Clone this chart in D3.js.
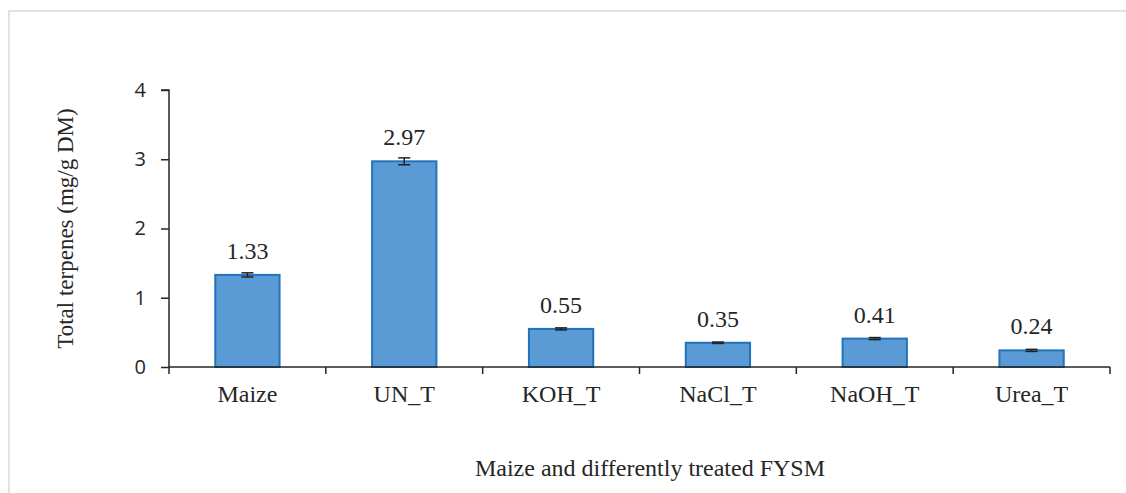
<!DOCTYPE html>
<html><head><meta charset="utf-8">
<script src="https://cdn.jsdelivr.net/npm/d3@7"></script>
<style>body{margin:0;background:#fff}svg{display:block}</style>
</head><body>
<svg id="c" width="1126" height="493"></svg>
<script>
const categories = ["Maize","UN_T","KOH_T","NaCl_T","NaOH_T","Urea_T"];
const values = [1.33, 2.97, 0.55, 0.35, 0.41, 0.24];
const errors = [0.03, 0.05, 0.015, 0.01, 0.015, 0.015];
const yTicks = [0,1,2,3,4];
const yTitle = "Total terpenes (mg/g DM)";
const xTitle = "Maize and differently treated FYSM";

const serif = "'Liberation Serif', 'Times New Roman', serif";
const svg = d3.select("#c");
svg.append("rect").attr("x",9).attr("y",11).attr("width",1140).attr("height",500)
  .attr("fill","#fff").attr("stroke","#d9d9d9").attr("stroke-width",1.5);

const L=169, R=1110, T=90, B=367;
const x = d3.scaleBand().domain(categories).range([L,R]).paddingInner(0.59).paddingOuter(0.295);
const y = d3.scaleLinear().domain([0,4]).range([B,T]);

// y axis
const ya = svg.append("g").attr("transform",`translate(${L},0)`)
  .call(d3.axisLeft(y).tickValues(yTicks).tickSize(8).tickPadding(15).tickFormat(d3.format("d")));
ya.select(".domain").attr("stroke","#262626").attr("stroke-width",1.5).attr("d",`M-8,${T}H0V${B}`);
ya.selectAll(".tick line").attr("stroke","#262626").attr("stroke-width",1.5);
ya.selectAll(".tick text").attr("font-family","'Open Sans', sans-serif").attr("font-size",20).attr("fill","#262626");

// bars
svg.selectAll(".bar").data(categories).join("rect")
  .attr("x",d=>x(d)).attr("width",x.bandwidth())
  .attr("y",(d,i)=>y(values[i])).attr("height",(d,i)=>B-y(values[i]))
  .attr("fill","#5b9bd5").attr("stroke","#2272bd").attr("stroke-width",2);

// x axis
const step = (R-L)/categories.length;
const xg = svg.append("g");
xg.append("line").attr("x1",L).attr("x2",R).attr("y1",B).attr("y2",B).attr("stroke","#262626").attr("stroke-width",1.5);
xg.selectAll(".xt").data(d3.range(categories.length+1)).join("line")
  .attr("x1",i=>L+i*step).attr("x2",i=>L+i*step).attr("y1",B).attr("y2",B+7)
  .attr("stroke","#262626").attr("stroke-width",1.5);
xg.selectAll(".xl").data(categories).join("text")
  .attr("x",d=>x(d)+x.bandwidth()/2).attr("y",B+35).attr("text-anchor","middle")
  .attr("font-family",serif).attr("font-size",24).attr("fill","#262626")
  .text(d=>d);

// error bars
const eg = svg.append("g").attr("stroke","#222").attr("stroke-width",1.5);
categories.forEach((c,i)=>{
  const cx = x(c)+x.bandwidth()/2;
  const y1=y(values[i]+errors[i]), y2=y(values[i]-errors[i]);
  eg.append("line").attr("x1",cx).attr("x2",cx).attr("y1",y1).attr("y2",y2);
  eg.append("line").attr("x1",cx-6).attr("x2",cx+6).attr("y1",y1).attr("y2",y1);
  eg.append("line").attr("x1",cx-6).attr("x2",cx+6).attr("y1",y2).attr("y2",y2);
});

// value labels
svg.selectAll(".vl").data(categories).join("text")
  .attr("x",d=>x(d)+x.bandwidth()/2).attr("y",(d,i)=>y(values[i])-16).attr("text-anchor","middle")
  .attr("font-family",serif).attr("font-size",24).attr("fill","#262626")
  .text((d,i)=>values[i].toFixed(2));

// titles
svg.append("text").attr("transform",`translate(73,${(T+B)/2}) rotate(-90)`).attr("text-anchor","middle")
  .attr("font-family",serif).attr("font-size",23).attr("fill","#262626")
  .text(yTitle);
svg.append("text").attr("x",650).attr("y",476).attr("text-anchor","middle")
  .attr("font-family",serif).attr("font-size",24).attr("fill","#262626")
  .text(xTitle);
</script>
</body></html>
